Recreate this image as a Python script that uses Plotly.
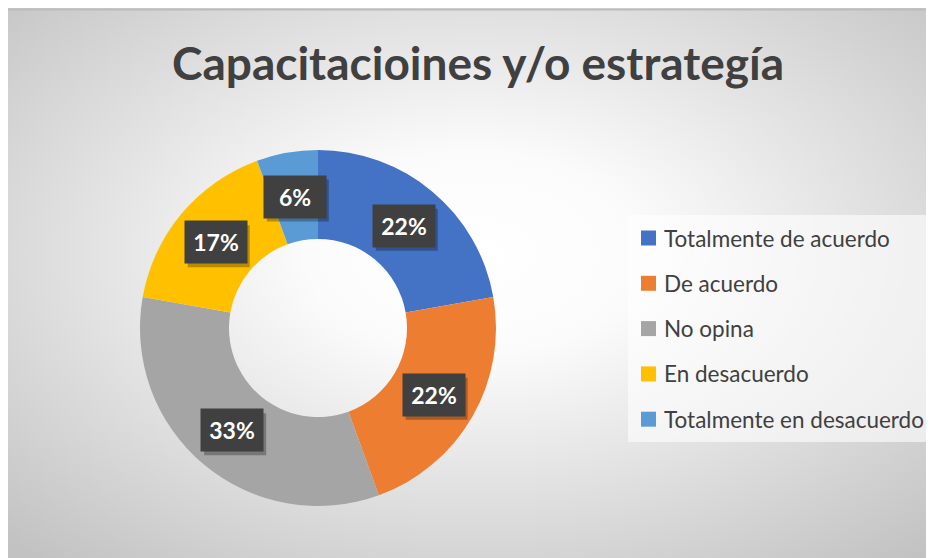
import math
import base64
import plotly.graph_objects as go

TITLE = "Capacitacioines y/o estrategía"
LABELS = ["Totalmente de acuerdo", "De acuerdo", "No opina",
          "En desacuerdo", "Totalmente en desacuerdo"]
VALUES = [4, 4, 6, 3, 1]
COLORS = ["#4472C4", "#ED7D31", "#A5A5A5", "#FFC000", "#5B9BD5"]

W, H = 934, 558
OFF = 8                          # page body margin of the browser
CX, CY, R = 318, 328, 178        # donut centre / radius in screen px
HOLE = 0.5
FONT = "Lato"
TXT = "#404040"

def px(x):
    return (x - OFF) / W

def py(y):
    return (H - (y - OFF)) / H

fig = go.Figure()

fig.add_trace(go.Pie(
    labels=LABELS, values=VALUES, hole=HOLE, sort=False,
    direction="clockwise", rotation=0,
    marker=dict(colors=COLORS, line=dict(width=0)),
    textinfo="none", hoverinfo="label+percent",
    domain=dict(x=[px(CX - R), px(CX + R)], y=[py(CY + R), py(CY - R)]),
    showlegend=False,
))

# background radial gradient
svg = ('<svg xmlns="http://www.w3.org/2000/svg" width="934" height="558" '
       'viewBox="0 0 934 558" preserveAspectRatio="none"><defs>'
       '<radialGradient id="g" cx="50%" cy="44%" r="72%">'
       '<stop offset="0" stop-color="#ffffff"/>'
       '<stop offset="0.25" stop-color="#fbfbfb"/>'
       '<stop offset="1" stop-color="#c2c2c2"/></radialGradient></defs>'
       '<rect width="934" height="558" fill="url(#g)"/></svg>')
src = "data:image/svg+xml;base64," + base64.b64encode(svg.encode()).decode()

annotations = []
shapes = []

# percentage labels
BW, BH = 62, 42
total = sum(VALUES)
cum = 0
for v in VALUES:
    mid = (cum + v / 2) / total * 2 * math.pi
    cum += v
    r = R * 0.75
    xx = CX + r * math.sin(mid)
    yy = CY - r * math.cos(mid)
    txt = f"{round(100 * v / total)}%"
    shapes.append(dict(type="rect", xref="paper", yref="paper",
                       x0=px(xx - BW / 2 + 3), x1=px(xx + BW / 2 + 3),
                       y0=py(yy + BH / 2 + 4), y1=py(yy - BH / 2 + 4),
                       fillcolor="rgba(0,0,0,0.28)", line=dict(width=0), layer="above"))
    annotations.append(dict(text=txt, x=px(xx), y=py(yy), xref="paper", yref="paper",
                            showarrow=False, width=BW - 6, height=BH - 6, borderpad=3,
                            xanchor="center", yanchor="middle", bgcolor="#404040",
                            font=dict(family=FONT, size=23, color="white", weight="bold")))

# legend (manual)
shapes.append(dict(type="rect", xref="paper", yref="paper",
                   x0=px(628), x1=px(931), y0=py(442), y1=py(215),
                   fillcolor="rgba(255,255,255,0.6)", line=dict(width=0), layer="below"))
for i, (lab, col) in enumerate(zip(LABELS, COLORS)):
    yc = 238 + 45.3 * i
    shapes.append(dict(type="rect", xref="paper", yref="paper",
                       x0=px(641), x1=px(656), y0=py(yc + 7.5), y1=py(yc - 7.5),
                       fillcolor=col, line=dict(width=0)))
    annotations.append(dict(text=lab, x=px(662), y=py(yc), xref="paper", yref="paper",
                            showarrow=False, xanchor="left", yanchor="middle",
                            font=dict(family=FONT, size=22.5, color=TXT)))

# title
annotations.append(dict(text=TITLE, x=px(478), y=py(62), xref="paper", yref="paper",
                        showarrow=False, xanchor="center", yanchor="middle",
                        font=dict(family=FONT, size=46, color=TXT, weight="bold")))

# top border line
shapes.append(dict(type="line", xref="paper", yref="paper",
                   x0=0, x1=1, y0=py(9.5), y1=py(9.5),
                   line=dict(color="#bcbcbc", width=2)))

fig.update_layout(
    width=W, height=H,
    margin=dict(l=0, r=0, t=0, b=0),
    paper_bgcolor="white", plot_bgcolor="white",
    images=[dict(source=src, xref="paper", yref="paper",
                 x=0, y=1, sizex=1, sizey=1,
                 xanchor="left", yanchor="top", sizing="stretch", layer="below")],
    shapes=shapes,
    annotations=annotations,
    showlegend=False,
)

fig.write_html("out.html")
